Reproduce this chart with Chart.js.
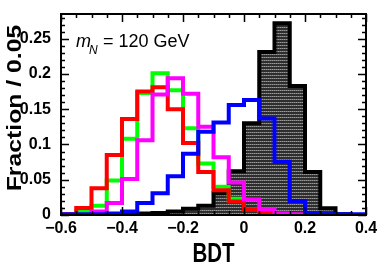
<!DOCTYPE html>
<html>
<head>
<meta charset="utf-8">
<script src="https://cdn.jsdelivr.net/npm/chart.js@4"></script>
<style>
  html, body { margin: 0; padding: 0; background: #fff; }
  #wrap { width: 382px; height: 273px; }
</style>
</head>
<body>
<div id="wrap"><canvas id="bdt-chart"></canvas></div>
<script>
// **Data (20 bins of width 0.05 from -0.6 to 0.4)

let binEdges = [-0.6, -0.55, -0.5, -0.45, -0.4, -0.35, -0.3, -0.25, -0.2, -0.15,
  -0.1, -0.05, 0, 0.05, 0.1, 0.15, 0.2, 0.25, 0.3, 0.35, 0.4];

let redVals = [0.001, 0.010, 0.038, 0.085, 0.136, 0.175, 0.181, 0.150, 0.102, 0.061,
  0.035, 0.019, 0.008, 0.003, 0, 0, 0, 0, 0, 0];
let greenVals = [0, 0.005, 0.013, 0.049, 0.108, 0.173, 0.201, 0.177, 0.123, 0.073,
  0.040, 0.023, 0.008, 0.002, 0, 0, 0, 0, 0, 0];
let magentaVals = [0, 0, 0.005, 0.017, 0.051, 0.106, 0.171, 0.194, 0.172, 0.125,
  0.082, 0.046, 0.022, 0.008, 0.002, 0.001, 0, 0, 0, 0];
let blueVals = [0.001, 0.001, 0.001, 0.002, 0.005, 0.017, 0.031, 0.055, 0.087, 0.118,
  0.131, 0.156, 0.163, 0.137, 0.0755, 0.020, 0.0025, 0.001, 0.001, 0.001];
let blackVals = [0, 0, 0, 0, 0.001, 0.002, 0.003, 0.005, 0.009, 0.013,
  0.031, 0.062, 0.130, 0.231, 0.272, 0.183, 0.061, 0.0095, 0.001, 0];

let xTickLabels = [-0.6, -0.4, -0.2, 0, 0.2, 0.4];
let yTickLabels = [0, 0.05, 0.1, 0.15, 0.2, 0.25];

let mainFont = "'Liberation Sans', Arial, sans-serif";

// turn bin contents into step points (left edge of each bin + closing right edge)
function histPoints(vals){
  let pts = [];
  for (let i = 0; i < vals.length; i++){
    pts.push({x: binEdges[i], y: vals[i]});
  }
  pts.push({x: binEdges[binEdges.length - 1], y: vals[vals.length - 1]});
  return pts;
}

// hatched dark fill for the black histogram
function makeFill(){
  let c = document.createElement('canvas');
  c.width = 2; c.height = 3;
  let g = c.getContext('2d');
  g.fillStyle = '#2e2e2e';
  g.fillRect(0, 0, 2, 3);
  g.fillStyle = '#9a9a9a';
  g.fillRect(0, 0, 1, 1);
  g.fillStyle = '#6a6a6a';
  g.fillRect(1, 0, 1, 1);
  return g.createPattern(c, 'repeat');
}

function lineSet(vals, color){
  return {
    data: histPoints(vals),
    borderColor: color,
    borderWidth: 4,
    stepped: 'before',
    pointRadius: 0,
    fill: false,
    borderJoinStyle: 'miter',
    borderCapStyle: 'butt'
  };
}

// frame, inward ticks and the text labels
let framePlugin = {
  id: 'frame',
  afterDatasetsDraw(chart){
    let ctx = chart.ctx;
    let a = chart.chartArea;
    let xs = chart.scales.x;
    let ys = chart.scales.y;
    ctx.save();
    ctx.strokeStyle = '#000';
    ctx.lineWidth = 2;
    ctx.strokeRect(a.left, a.top, a.right - a.left, a.bottom - a.top);

    ctx.lineWidth = 1.5;
    ctx.beginPath();
    for (let k = -12; k <= 8; k++){
      let px = Math.round(xs.getPixelForValue(k * 0.05)) + 0.5;
      let len = (k % 4 === 0) ? 8 : 4;
      ctx.moveTo(px, a.bottom); ctx.lineTo(px, a.bottom - len);
      ctx.moveTo(px, a.top); ctx.lineTo(px, a.top + len);
    }
    for (let k = 0; k <= 28; k++){
      let py = Math.round(ys.getPixelForValue(k * 0.01)) + 0.5;
      let len = (k % 5 === 0) ? 8 : 4;
      ctx.moveTo(a.left, py); ctx.lineTo(a.left + len, py);
      ctx.moveTo(a.right, py); ctx.lineTo(a.right - len, py);
    }
    ctx.stroke();

    // label text
    ctx.fillStyle = '#000';
    ctx.textBaseline = 'alphabetic';
    ctx.textAlign = 'left';
    ctx.font = 'italic 18px ' + mainFont;
    ctx.fillText('m', 76, 47);
    let mw = ctx.measureText('m').width;
    ctx.font = 'italic 12px ' + mainFont;
    ctx.fillText('N', 76 + mw - 2, 54);
    ctx.font = '18px ' + mainFont;
    ctx.fillText('= 120 GeV', 103, 47);

    // x title (condensed like the original)
    ctx.save();
    ctx.translate((a.left + a.right) / 2, 262);
    ctx.scale(0.76, 1);
    ctx.textAlign = 'center';
    ctx.font = 'bold 27px ' + mainFont;
    ctx.fillText('BDT', 0, 0);
    ctx.restore();

    // y title (a bit stretched along its length)
    ctx.translate(20.5, 108);
    ctx.rotate(-Math.PI / 2);
    ctx.scale(1.18, 1);
    ctx.textAlign = 'center';
    ctx.font = 'bold 21px ' + mainFont;
    ctx.fillText('Fraction / 0.05', 0, 0);
    ctx.restore();
  }
};

let ctx = document.getElementById('bdt-chart');

new Chart(ctx, {
  type: 'line',
  data: {
    datasets: [
      lineSet(blueVals, '#0000ff'),
      lineSet(magentaVals, '#ff00ff'),
      lineSet(redVals, '#ff0000'),
      lineSet(greenVals, '#00ff00'),
      Object.assign(lineSet(blackVals, '#000000'), {fill: 'origin', backgroundColor: makeFill()})
    ]
  },
  options: {
    responsive: true,
    maintainAspectRatio: false,
    animation: false,
    layout: { padding: { left: 0, top: 14, right: 16, bottom: 0 } },
    plugins: { legend: { display: false }, tooltip: { enabled: false } },
    scales: {
      x: {
        type: 'linear',
        min: -0.6,
        max: 0.4,
        grid: { display: false },
        border: { display: false },
        afterFit(s){ s.height = 58; },
        afterBuildTicks(s){ s.ticks = xTickLabels.map(v => ({value: v})); },
        ticks: {
          padding: -4,
          color: '#000',
          font: { family: mainFont, size: 16, weight: 'bold' },
          callback: v => (Math.abs(v) < 1e-9 ? '0' : String(v).replace('-', '\u2212'))
        }
      },
      y: {
        min: 0,
        max: 0.285,
        grid: { display: false },
        border: { display: false },
        afterFit(s){ s.width = 61; },
        afterBuildTicks(s){ s.ticks = yTickLabels.map(v => ({value: v})); },
        ticks: {
          padding: 2,
          color: '#000',
          font: { family: mainFont, size: 16, weight: 'bold' },
          callback: v => String(v)
        }
      }
    }
  },
  plugins: [framePlugin]
});
</script>
</body>
</html>
